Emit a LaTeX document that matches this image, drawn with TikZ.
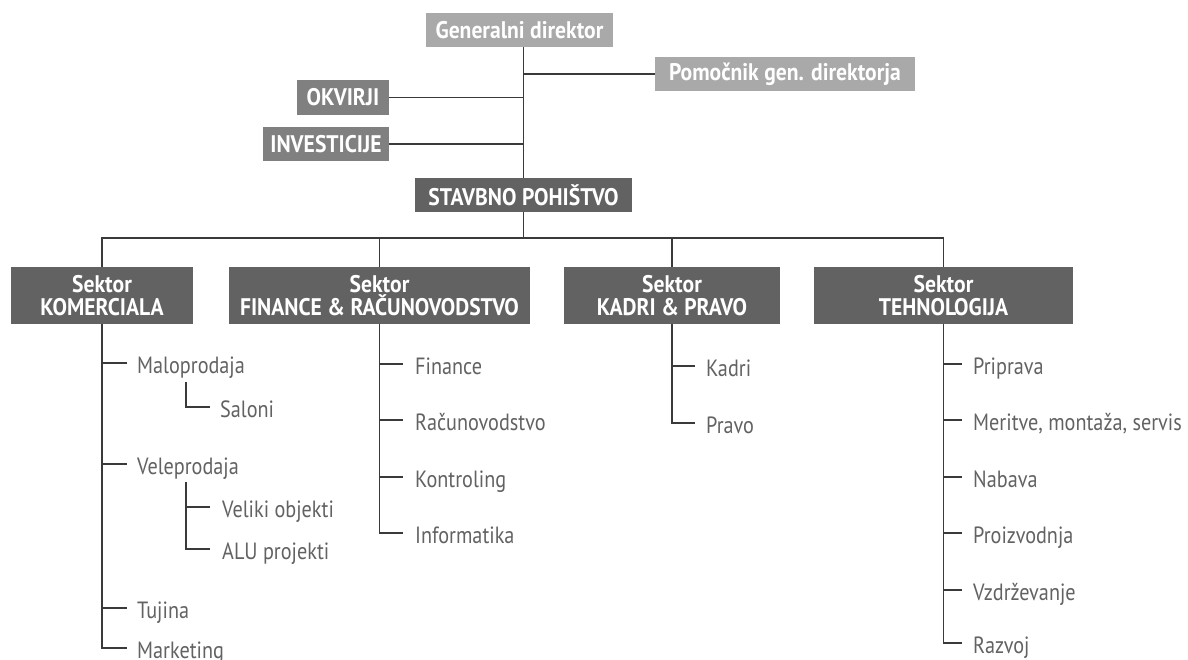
\documentclass[tikz,border=0pt]{standalone}
\usepackage{fontspec}
\setmainfont{PT Sans}
\newfontfamily\boxfont[FakeStretch=0.9]{PT Sans}
\newfontfamily\itemfont[FakeStretch=0.86]{PT Sans}
\definecolor{boxlight}{HTML}{A9A9A9}
\definecolor{boxmid}{HTML}{808080}
\definecolor{boxdark}{HTML}{626262}
\definecolor{itemgray}{HTML}{626262}
\definecolor{linegray}{HTML}{3A3A3A}
\begin{document}
\begin{tikzpicture}[x=1pt,y=-1pt,
  every node/.style={inner sep=0pt},
  boxbase/.style={rectangle, text=white, font=\boxfont\bfseries\fontsize{24}{23}\selectfont, minimum height=34pt},
  lightbox/.style={boxbase, fill=boxlight},
  midbox/.style={boxbase, fill=boxmid},
  darkbox/.style={boxbase, fill=boxdark},
  sector/.style={darkbox, minimum height=57pt, align=center, font=\boxfont\bfseries\fontsize{24}{23}\selectfont},
  item/.style={anchor=west, text=itemgray, font=\itemfont\fontsize{23.5}{24}\selectfont, text height=20pt, text depth=0pt},
  conn/.style={draw=linegray, line width=1.3pt}
]
\fill[white] (0,0) rectangle (1188,659);
\useasboundingbox (0,0) rectangle (1188,659);

% top boxes
\node[lightbox, minimum width=187pt] (gd) at (519.5,30) {Generalni direktor};
\node[lightbox, minimum width=260pt] (pom) at (785,74) {Pomočnik gen. direktorja};
\node[midbox, minimum width=92pt, minimum height=35pt] (okv) at (343,97.5) {OKVIRJI};
\node[midbox, minimum width=126pt] (inv) at (326,144) {INVESTICIJE};
\node[darkbox, minimum width=217pt] (sp) at (523.5,195) {STAVBNO POHIŠTVO};

\draw[conn] (sp.north |- gd.south) -- (sp.north);
\draw[conn] (pom.west) -- (pom.west -| sp.north);
\draw[conn] (okv.east) -- (okv.east -| sp.north);
\draw[conn] (inv.east) -- (inv.east -| sp.north);

% sectors
\node[sector, minimum width=182pt] (kom) at (102,295.5) {Sektor\\KOMERCIALA};
\node[sector, minimum width=301pt] (fin) at (379.5,295.5) {Sektor\\FINANCE \& RAČUNOVODSTVO};
\node[sector, minimum width=216pt] (kad) at (672,295.5) {Sektor\\KADRI \& PRAVO};
\node[sector, minimum width=259pt] (teh) at (943.5,295.5) {Sektor\\TEHNOLOGIJA};

\coordinate (bus) at (523.5,238);
\draw[conn] (sp.south) -- (bus);
\draw[conn] (kom.north) |- (teh.north |- bus) -- (teh.north);
\draw[conn] (fin.north) -- (fin.north |- bus);
\draw[conn] (kad.north) -- (kad.north |- bus);

% Komerciala
\node[item] (malo) at (137,363) {Maloprodaja};
\node[item] (salo) at (220,407) {Saloni};
\node[item] (velep) at (137,464) {Veleprodaja};
\node[item] (velik) at (222,507) {Veliki objekti};
\node[item] (alu) at (222,549) {ALU projekti};
\node[item] (tuj) at (137,608) {Tujina};
\node[item] (mark) at (137,648) {Marketing};
\draw[conn] (kom.south) |- ([xshift=-10pt]mark.west);
\foreach \n in {malo,velep,tuj} \draw[conn] (kom.south |- \n.west) -- ([xshift=-10pt]\n.west);
\coordinate (malosub) at (186,382);
\coordinate (velesub) at (186,482);
\draw[conn] (malosub) |- ([xshift=-10pt]salo.west);
\draw[conn] (velesub) |- ([xshift=-12pt]alu.west);
\draw[conn] (velesub |- velik.west) -- ([xshift=-12pt]velik.west);

% Finance
\node[item] (f1) at (415,364) {Finance};
\node[item] (f2) at (415,420) {Računovodstvo};
\node[item] (f3) at (415,477) {Kontroling};
\node[item] (f4) at (415,533) {Informatika};
\draw[conn] (fin.south) |- ([xshift=-12pt]f4.west);
\foreach \n in {f1,f2,f3} \draw[conn] (fin.south |- \n.west) -- ([xshift=-12pt]\n.west);

% Kadri
\node[item] (k1) at (706,366) {Kadri};
\node[item] (k2) at (706,423) {Pravo};
\draw[conn] (kad.south) |- ([xshift=-11pt]k2.west);
\draw[conn] (kad.south |- k1.west) -- ([xshift=-11pt]k1.west);

% Tehnologija
\node[item] (t1) at (973,364) {Priprava};
\node[item] (t2) at (973,420) {Meritve, montaža, servis};
\node[item] (t3) at (973,477) {Nabava};
\node[item] (t4) at (973,533) {Proizvodnja};
\node[item] (t5) at (973,590) {Vzdrževanje};
\node[item] (t6) at (973,643) {Razvoj};
\draw[conn] (teh.south) |- ([xshift=-11pt]t6.west);
\foreach \n in {t1,t2,t3,t4,t5} \draw[conn] (teh.south |- \n.west) -- ([xshift=-11pt]\n.west);
\end{tikzpicture}
\end{document}
